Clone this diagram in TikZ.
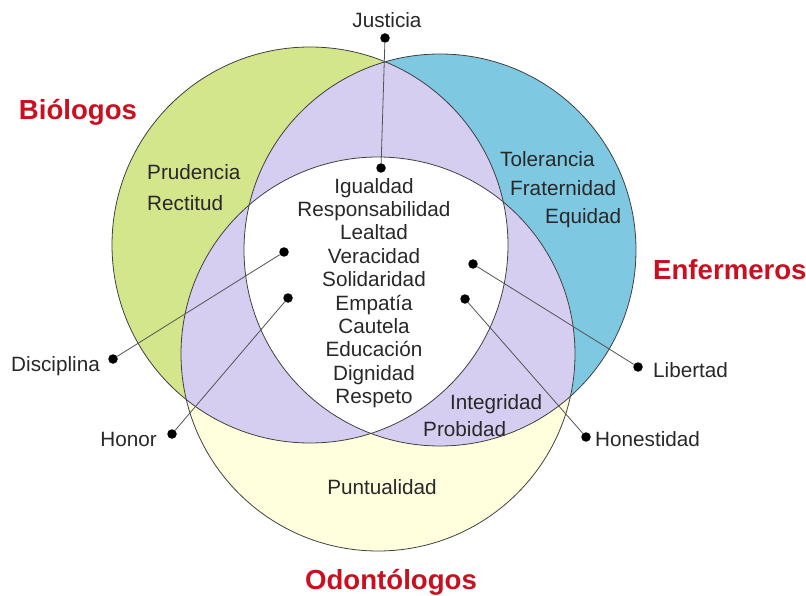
\documentclass[tikz,border=0pt]{standalone}
\usepackage{fontspec}
\setmainfont{Liberation Sans}
\definecolor{bioGreen}{RGB}{212,230,140}
\definecolor{enfBlue}{RGB}{126,200,226}
\definecolor{odoYellow}{RGB}{255,255,222}
\definecolor{mixLav}{RGB}{214,206,240}
\definecolor{titleRed}{RGB}{200,16,32}
\definecolor{txtGray}{RGB}{40,40,40}
\tikzset{
  val/.style={inner sep=0pt, text=txtGray, font=\fontsize{20.7}{23.4}\selectfont},
  grp/.style={inner sep=0pt, text=titleRed, font=\fontsize{27.6}{30}\selectfont\bfseries},
  dot/.style={circle, fill=black, inner sep=0pt, minimum size=9.5pt},
  lead/.style={draw=txtGray!80, line width=0.8pt},
  rim/.style={draw=black!75, line width=0.8pt}
}
\begin{document}
\begin{tikzpicture}[x=1pt,y=-1pt]
	\useasboundingbox (0,0) rectangle (806,596);
	\coordinate (cb) at (310,245);
	\coordinate (ce) at (440,250);
	\coordinate (co) at (378,354);
	
	% circles
	\fill[bioGreen] (cb) circle (198pt);
	\fill[enfBlue] (ce) circle (196pt);
	\fill[odoYellow] (co) circle (197pt);
	\begin{scope}
		\clip (cb) circle (198pt);
		\fill[mixLav] (ce) circle (196pt);
		\fill[mixLav] (co) circle (197pt);
	\end{scope}
	\begin{scope}
		\clip (ce) circle (196pt);
		\fill[mixLav] (co) circle (197pt);
	\end{scope}
	\begin{scope}
		\clip (cb) circle (198pt);
		\clip (ce) circle (196pt);
		\fill[white] (co) circle (197pt);
	\end{scope}
	\draw[rim] (cb) circle (198pt);
	\draw[rim] (ce) circle (196pt);
	\draw[rim] (co) circle (197pt);
	
	% group names
	\node[grp] (bio) at (78,112) {Biólogos};
	\node[grp, anchor=west] (enf) at (653,270) {Enfermeros};
	\node[grp] (odo) at (391,582) {Odontólogos};
	
	% values
	\node[val, align=center] (todos) at (374,293) {Igualdad\\Responsabilidad\\Lealtad\\Veracidad\\Solidaridad\\Empatía\\Cautela\\Educación\\Dignidad\\Respeto};
	\node[val, anchor=west] (prud) at (147,172) {Prudencia};
	\node[val, anchor=west] (rect) at (147,203) {Rectitud};
	\node[val, anchor=west] (tole) at (500,159) {Tolerancia};
	\node[val, anchor=west] (frat) at (510,188) {Fraternidad};
	\node[val, anchor=west] (equi) at (545,218) {Equidad};
	\node[val, anchor=west] (inte) at (450,404) {Integridad};
	\node[val, anchor=west] (prob) at (423,429) {Probidad};
	\node[val] (punt) at (382,487) {Puntualidad};
	
	% outer values with leaders
	\node[val] (just) at (387,20) {Justicia};
	\node[val, anchor=east] (disc) at (100,366) {Disciplina};
	\node[val, anchor=east] (hono) at (157,439) {Honor};
	\node[val, anchor=west] (libe) at (653,370) {Libertad};
	\node[val, anchor=west] (hone) at (595,439) {Honestidad};
	
	\node[dot] (djus) at (385,38) {};
	\node[dot] (djus2) at (381,168) {};
	\node[dot] (ddisc) at (113,359) {};
	\node[dot] (ddisc2) at (284,252) {};
	\node[dot] (dhono) at (172,434) {};
	\node[dot] (dhono2) at (288,298) {};
	\node[dot] (dlibe) at (638,367) {};
	\node[dot] (dlibe2) at (473,264) {};
	\node[dot] (dhone) at (586,437) {};
	\node[dot] (dhone2) at (465,299) {};
	
	\draw[lead] (djus) -- (djus2);
	\draw[lead] (ddisc) -- (ddisc2);
	\draw[lead] (dhono) -- (dhono2);
	\draw[lead] (dlibe) -- (dlibe2);
	\draw[lead] (dhone) -- (dhone2);
\end{tikzpicture}
\end{document}
